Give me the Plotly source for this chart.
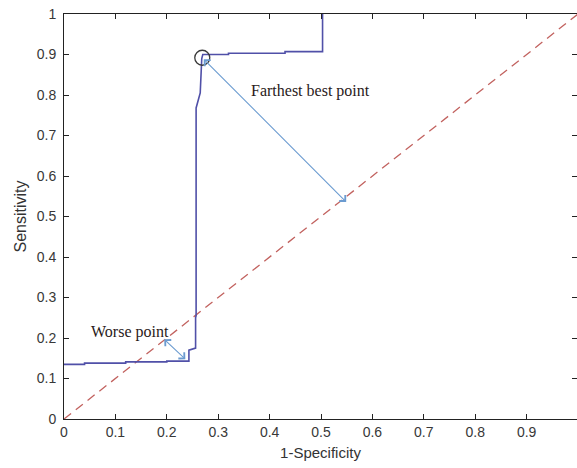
import plotly.graph_objects as go

# ROC curve (false positive rate vs. true positive rate); beyond fpr=0.503 it runs
# along the top frame at sensitivity 1
roc_fpr = [0, 0.04, 0.04, 0.12, 0.12, 0.2, 0.2, 0.24, 0.243, 0.243, 0.256, 0.256,
           0.257, 0.257, 0.265, 0.268, 0.27, 0.32, 0.32, 0.43, 0.43, 0.503, 0.503]
roc_tpr = [0.135, 0.135, 0.138, 0.138, 0.141, 0.141, 0.143, 0.143, 0.143, 0.17, 0.175, 0.25,
           0.255, 0.768, 0.805, 0.89, 0.9, 0.9, 0.903, 0.903, 0.907, 0.907, 1.0]

# chance line
chance_x = [0, 1]
chance_y = [0, 1]

# operating points
best_point = (0.269, 0.892)
best_foot = (0.549, 0.536)
worst_point = (0.239, 0.144)
worst_foot = (0.195, 0.197)

tick_vals = [0, 0.1, 0.2, 0.3, 0.4, 0.5, 0.6, 0.7, 0.8, 0.9, 1.0]

fig = go.Figure()
fig.add_trace(go.Scatter(x=chance_x, y=chance_y, mode="lines",
                         line=dict(color="#c2625f", width=1.3, dash="9px,6px"),
                         hoverinfo="skip"))
fig.add_trace(go.Scatter(x=roc_fpr, y=roc_tpr, mode="lines",
                         line=dict(color="#5050a8", width=1.6),
                         hoverinfo="skip"))
fig.add_trace(go.Scatter(x=[best_point[0]], y=[best_point[1]], mode="markers",
                         marker=dict(symbol="circle-open", size=15, color="#3a3a3a",
                                     line=dict(color="#3a3a3a", width=1.3)),
                         hoverinfo="skip"))

arrow_color = "#6b9bd0"
for (p, f) in [(best_point, best_foot), (worst_point, worst_foot)]:
    fig.add_annotation(x=f[0], y=f[1], ax=p[0], ay=p[1], xref="x", yref="y",
                       axref="x", ayref="y", text="", showarrow=True,
                       arrowhead=4, startarrowhead=4, arrowside="end+start",
                       arrowsize=1.5, startarrowsize=1.5, arrowwidth=1.1,
                       arrowcolor=arrow_color)

text_font = dict(family="Liberation Serif, Times New Roman, serif", size=16, color="#2a1a1a")
fig.add_annotation(x=0.36, y=0.81, xref="x", yref="y", text="Farthest best point",
                   showarrow=False, xanchor="left", yanchor="middle", font=text_font)
fig.add_annotation(x=0.049, y=0.215, xref="x", yref="y", text="Worse point",
                   showarrow=False, xanchor="left", yanchor="middle", font=text_font)

tick_font = dict(family="Liberation Sans, Arial, sans-serif", size=14, color="#383838")
xtitle_font = dict(family="Liberation Sans, Arial, sans-serif", size=15, color="#333333")
ytitle_font = dict(family="Liberation Sans, Arial, sans-serif", size=16, color="#333333")
fig.update_xaxes(range=[0, 0.998], tickvals=tick_vals, ticks="inside", ticklen=5,
                 tickcolor="#222", showline=True, linecolor="#222", linewidth=1,
                 mirror="ticks", showgrid=False, zeroline=False, tickfont=tick_font,
                 layer="above traces",
                 title=dict(text="1-Specificity", font=xtitle_font, standoff=8))
fig.update_yaxes(range=[0, 1], tickvals=tick_vals, ticks="inside", ticklen=5,
                 tickcolor="#222", showline=True, linecolor="#222", linewidth=1,
                 mirror="ticks", showgrid=False, zeroline=False, tickfont=tick_font,
                 layer="above traces", ticklabelstandoff=4,
                 title=dict(text="Sensitivity", font=ytitle_font, standoff=6))
fig.update_layout(width=577, height=468, showlegend=False,
                  margin=dict(l=64, r=0, t=14, b=49),
                  paper_bgcolor="white", plot_bgcolor="white")
fig.write_html("out.html")
